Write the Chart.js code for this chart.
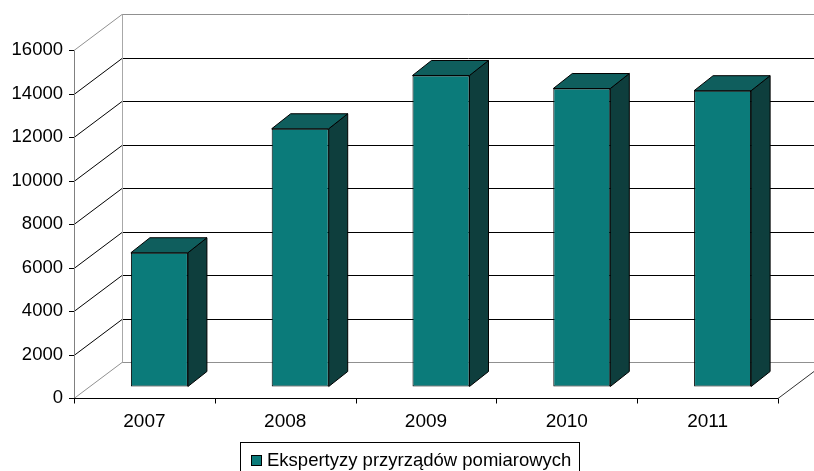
<!DOCTYPE html>
<html>
<head>
<meta charset="utf-8">
<script src="https://cdn.jsdelivr.net/npm/chart.js@4.4.1/dist/chart.umd.min.js"></script>
<style>
  html, body { margin: 0; padding: 0; background: #fff; }
  #wrap { width: 814px; height: 471px; }
</style>
</head>
<body>
<div id="wrap"><canvas id="chart" width="814" height="471"></canvas></div>
<script>
// --- dane ---
const years = ["2007", "2008", "2009", "2010", "2011"];
const expertises = [6150, 11850, 14300, 13700, 13600];
const seriesLabel = "Ekspertyzy przyrządów pomiarowych";
const yTicks = [0, 2000, 4000, 6000, 8000, 10000, 12000, 14000, 16000];

// --- wygląd 3D ---
const WALL = { dx: 48, dy: -36 };   // głębokość ścian
const BAR_OFF = { dx: 15, dy: -11.5 }; // przesunięcie przedniej ściany słupka
const BAR_DEPTH = { dx: 19, dy: -15 };
const FRONT = "#0b7b7a";
const TOP = "#0f5e5d";
const SIDE = "#0e3e3d";
const FONT = "Liberation Sans, Arial, sans-serif";

function line(ctx, x1, y1, x2, y2, color) {
  ctx.strokeStyle = color;
  ctx.lineWidth = 1;
  ctx.beginPath();
  ctx.moveTo(x1, y1);
  ctx.lineTo(x2, y2);
  ctx.stroke();
}

const frame3d = {
  id: "frame3d",
  beforeDatasetsDraw(chart) {
    const { ctx, chartArea, scales } = chart;
    const y = scales.y;
    const L = chartArea.left, R = chartArea.right;
    ctx.save();
    // siatka: przekątne + tylna ściana
    yTicks.forEach((v, i) => {
      const py = Math.round(y.getPixelForValue(v)) + 0.5;
      const edge = i === 0 || i === yTicks.length - 1;
      const col = edge ? "#909090" : "#000";
      line(ctx, L, py, L + WALL.dx, py + WALL.dy, col);
      line(ctx, L + WALL.dx, py + WALL.dy, R + WALL.dx, py + WALL.dy, col);
      // znacznik osi Y
      line(ctx, L - 5, py, L, py, "#000");
    });
    const top = Math.round(y.getPixelForValue(16000)) + 0.5;
    const base = Math.round(y.getPixelForValue(0)) + 0.5;
    // lewa krawędź tylnej ściany
    line(ctx, L + WALL.dx + 0.5, top + WALL.dy, L + WALL.dx + 0.5, base + WALL.dy, "#a8a8a8");
    // oś Y
    line(ctx, L + 0.5, top, L + 0.5, base, "#808080");
    // podłoga
    line(ctx, R, base, R + WALL.dx, base + WALL.dy, "#303030");
    line(ctx, L, base, R, base, "#000");
    // znaczniki osi X
    for (let i = 0; i <= years.length; i++) {
      const px = Math.round(L + (R - L) * i / years.length) + 0.5;
      line(ctx, px, base, px, base + 5, "#000");
    }
    // przesunięcie słupków w głąb
    ctx.translate(BAR_OFF.dx, BAR_OFF.dy);
  },
  afterDatasetsDraw(chart) {
    const { ctx } = chart;
    ctx.restore();
    ctx.save();
    const meta = chart.getDatasetMeta(0);
    meta.data.forEach((bar) => {
      const l = bar.x - bar.width / 2 + BAR_OFF.dx;
      const r = bar.x + bar.width / 2 + BAR_OFF.dx;
      const t = bar.y + BAR_OFF.dy;
      const b = bar.base + BAR_OFF.dy;
      const dx = BAR_DEPTH.dx, dy = BAR_DEPTH.dy;
      ctx.strokeStyle = "#000";
      ctx.lineWidth = 1;
      // bok
      ctx.fillStyle = SIDE;
      ctx.beginPath();
      ctx.moveTo(r, t); ctx.lineTo(r + dx, t + dy); ctx.lineTo(r + dx, b + dy); ctx.lineTo(r, b);
      ctx.closePath(); ctx.fill(); ctx.stroke();
      // góra
      ctx.fillStyle = TOP;
      ctx.beginPath();
      ctx.moveTo(l, t); ctx.lineTo(l + dx, t + dy); ctx.lineTo(r + dx, t + dy); ctx.lineTo(r, t);
      ctx.closePath(); ctx.fill(); ctx.stroke();
    });
    ctx.restore();
  },
  afterDraw(chart) {
    // legenda w ramce
    const { ctx } = chart;
    ctx.save();
    ctx.strokeStyle = "#000";
    ctx.lineWidth = 1;
    ctx.strokeRect(240.5, 442.5, 339, 40);
    ctx.fillStyle = FRONT;
    ctx.fillRect(251, 455, 11, 11);
    ctx.strokeRect(251.5, 455.5, 10, 10);
    ctx.fillStyle = "#000";
    ctx.font = "18.5px " + FONT;
    ctx.textBaseline = "alphabetic";
    ctx.textAlign = "left";
    ctx.fillText(seriesLabel, 267, 466);
    ctx.restore();
  }
};

new Chart(document.getElementById("chart"), {
  type: "bar",
  data: {
    labels: years,
    datasets: [{
      label: seriesLabel,
      data: expertises,
      backgroundColor: FRONT,
      borderColor: "#000",
      borderWidth: 1,
      borderSkipped: false,
      categoryPercentage: 0.405,
      barPercentage: 1,
      clip: false
    }]
  },
  options: {
    responsive: false,
    animation: false,
    layout: { padding: { top: 50, right: 36, left: 0, bottom: 0 } },
    plugins: { legend: { display: false }, tooltip: { enabled: false } },
    scales: {
      x: {
        grid: { display: false, drawTicks: false },
        border: { display: false },
        ticks: { color: "#000", font: { family: FONT, size: 19 }, padding: 12 },
        afterFit(s) { s.height = 73; }
      },
      y: {
        min: 0,
        max: 16000,
        grid: { display: false, drawTicks: false },
        border: { display: false },
        ticks: {
          stepSize: 2000,
          color: "#000",
          font: { family: FONT, size: 18.5 },
          padding: 11,
          callback: (v) => String(v)
        },
        afterFit(s) { s.width = 74; }
      }
    }
  },
  plugins: [frame3d]
});
</script>
</body>
</html>
